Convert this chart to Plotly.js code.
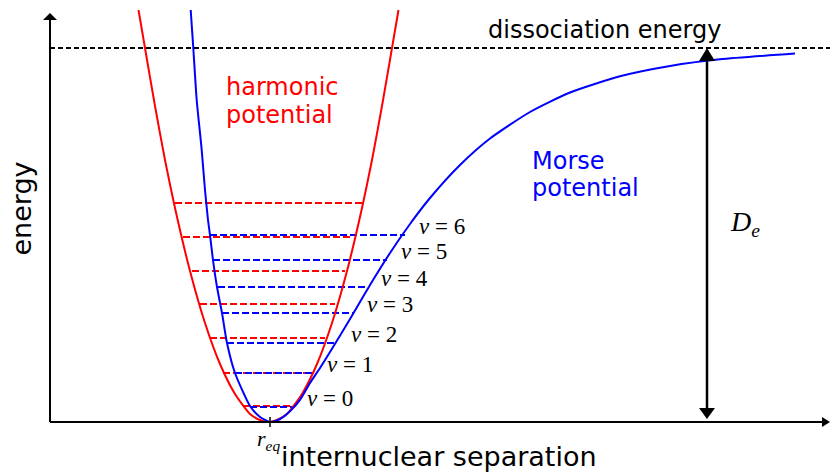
<!DOCTYPE html>
<html><head><meta charset="utf-8">
<script src="https://cdn.plot.ly/plotly-3.0.1.min.js"></script>
<style>html,body{margin:0;padding:0;background:#fff}#chart{width:830px;height:473px}</style>
</head><body><div id="chart"></div>
<script>
// Harmonic potential curve (separation r, energy E)
const harmonicR = [88.5,95,105,115,125,140,155,170,185,200,210,218.5,227,237,252,267,282,297,312,322,332,342,348.5];
const harmonicE = [412,374,316,262,214,151,99,58,28,8,2,0,2,8,28,58,99,151,214,262,316,374,412];
// Morse potential curve
const morseR = [140.7,143.3,146.7,151.7,155,158,160,163,167,172,177,185,200,210,220,225,230,240,250,260,270,280,300,320,340,360,380,410,440,480,520,570,620,670,745];
const morseE = [412,374,322,272,232,202,187,162,135,109,79,49,16,5,0,0.8,2.9,10.8,22.2,39,54,70,103,137,169,198,224,257,283.5,310,329.5,345.7,356,362.7,368.4];
// Vibrational levels v = 0..6
const levelNames = ['0','1','2','3','4','5','6'];
const harmonicLevelE = [16,49,84,118,151,185,219];
const harmonicLevelStart = [193,173,160,150,142,133,125];
const harmonicLevelEnd = [245,263,275,285,295,303,313];
const morseLevelE = [15,49,79,109,135,162,187];
const morseLevelStart = [200,185,177,172,168,163,160];
const morseLevelEnd = [243,263,287,303,317,337,355];
const dissociationEnergy = 374;
const rEq = 220;
const deArrowR = 657;

function levelTrace(starts, ends, es, color) {
  const x = [], y = [];
  for (let i = 0; i < es.length; i++) { x.push(starts[i], ends[i], null); y.push(es[i], es[i], null); }
  return {x, y, mode:'lines', type:'scatter', hoverinfo:'skip',
          line:{color, width:2, dash:'7px,3px'}};
}

const traces = [
  levelTrace(harmonicLevelStart, harmonicLevelEnd, harmonicLevelE, '#ff0000'),
  levelTrace(morseLevelStart, morseLevelEnd, morseLevelE, '#0000ff'),
  {x:harmonicR, y:harmonicE, mode:'lines', type:'scatter', line:{color:'#ff0000', width:2, shape:'spline', smoothing:0.6}, hoverinfo:'skip'},
  {x:morseR, y:morseE, mode:'lines', type:'scatter', line:{color:'#0000ff', width:2, shape:'spline', smoothing:0.6}, hoverinfo:'skip'}
];

const SANS = 'DejaVu Sans, sans-serif';
const SERIF = 'Liberation Serif, serif';
function txt(text, x, yBase, size, color, family, xanchor, desc) {
  return {text, x, y:yBase, xref:'x', yref:'y', showarrow:false, xanchor:xanchor||'left', yanchor:'bottom',
          yshift:-(size*(desc||0.236)+1), font:{family, size, color}};
}
const annotations = [
  txt('dissociation energy', 436, 382.8, 24, '#000', SANS),
  txt('harmonic', 173.7, 325.3, 24, '#ff0000', SANS),
  txt('potential', 173.7, 298, 24, '#ff0000', SANS),
  txt('Morse', 480, 251.3, 24, '#0000ff', SANS),
  txt('potential', 480, 224.7, 24, '#0000ff', SANS),
  {text:'internuclear separation', x:0.505, y:0, xref:'paper', yref:'paper', showarrow:false,
   xanchor:'center', yanchor:'top', yshift:-7, font:{family:SANS, size:27, color:'#000'}},
  {text:'energy', x:-0.0228, y:0.527, xref:'paper', yref:'paper', showarrow:false, textangle:-90,
   xanchor:'center', yanchor:'middle', font:{family:SANS, size:27, color:'#000'}},
  {text:'<i>D</i><sub><i>e</i></sub>', x:678, y:199, xref:'x', yref:'y', showarrow:false,
   xanchor:'left', yanchor:'middle', font:{family:SERIF, size:28, color:'#000'}},
  {text:'<i>r</i><sub><i>eq</i></sub>', x:rEq - 2, y:-2, xref:'x', yref:'y', showarrow:false,
   xanchor:'center', yanchor:'top', font:{family:SERIF, size:22, color:'#000'}}
];
for (let i = 0; i < levelNames.length; i++) {
  const a = txt('<i>v</i> = ' + levelNames[i], morseLevelEnd[i], morseLevelE[i], 23, '#000', SERIF, 'left', 0.216);
  a.xshift = 12;
  annotations.push(a);
}

const shapes = [
  // axes
  {type:'line', xref:'x', yref:'y', x0:0, x1:0, y0:0, y1:404, line:{color:'#000', width:2}},
  {type:'path', xref:'x', yref:'y', xsizemode:'pixel', ysizemode:'pixel', xanchor:0, yanchor:409,
   path:'M-7,-7 L7,-7 L0,0 Z', fillcolor:'#000', line:{width:0}},
  {type:'line', xref:'x', yref:'y', x0:0, x1:774, y0:0, y1:0, line:{color:'#000', width:2}},
  {type:'path', xref:'x', yref:'y', xsizemode:'pixel', ysizemode:'pixel', xanchor:780, yanchor:0,
   path:'M0,0 L-8,5 L-8,-5 Z', fillcolor:'#000', line:{width:0}},
  // dissociation energy
  {type:'line', xref:'x', yref:'y', x0:0, x1:780, y0:dissociationEnergy, y1:dissociationEnergy,
   line:{color:'#000', width:2, dash:'5px,3px'}},
  // D_e arrow
  {type:'line', xref:'x', yref:'y', x0:deArrowR, x1:deArrowR, y0:8, y1:366, line:{color:'#000', width:2.5}},
  {type:'path', xref:'x', yref:'y', xsizemode:'pixel', ysizemode:'pixel', xanchor:deArrowR, yanchor:dissociationEnergy,
   path:'M-8,-13 L8,-13 L0,0 Z', fillcolor:'#000', line:{width:0}},
  {type:'path', xref:'x', yref:'y', xsizemode:'pixel', ysizemode:'pixel', xanchor:deArrowR, yanchor:0,
   path:'M-8,14 L8,14 L0,3 Z', fillcolor:'#000', line:{width:0}},
  // r_eq tick
  {type:'line', xref:'x', yref:'y', x0:rEq, x1:rEq, y0:-5, y1:5, line:{color:'#000', width:1.5}}
];

const layout = {
  width:830, height:473, margin:{l:40, r:0, t:8, b:41},
  paper_bgcolor:'#fff', plot_bgcolor:'#fff', showlegend:false,
  xaxis:{range:[-10,780], visible:false, fixedrange:true},
  yaxis:{range:[-10,414], visible:false, fixedrange:true},
  annotations, shapes
};
Plotly.newPlot('chart', traces, layout, {staticPlot:true, displayModeBar:false});
</script></body></html>
